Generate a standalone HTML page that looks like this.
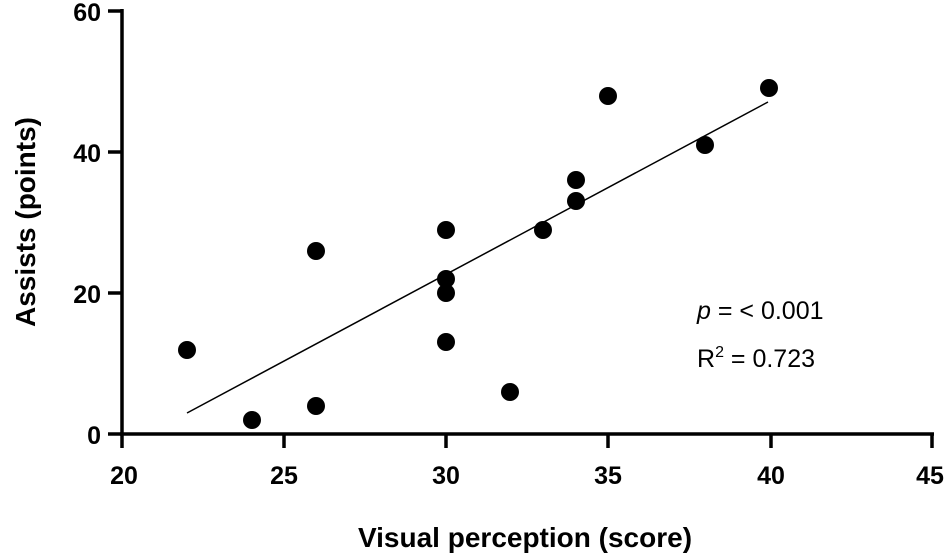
<!DOCTYPE html>
<html><head><style>body{margin:0;background:#fff}</style></head><body>
<svg width="945" height="554" xmlns="http://www.w3.org/2000/svg" font-family="Liberation Sans, Arial, sans-serif">
<g stroke="#000" stroke-width="3.5" fill="none">
<line x1="122" y1="9" x2="122" y2="434"/>
<line x1="120" y1="434" x2="934" y2="434"/>
<line x1="108" y1="11" x2="122" y2="11"/>
<line x1="108" y1="152" x2="122" y2="152"/>
<line x1="108" y1="293" x2="122" y2="293"/>
<line x1="108" y1="434" x2="122" y2="434"/>
<line x1="122" y1="434" x2="122" y2="448"/>
<line x1="284" y1="434" x2="284" y2="448"/>
<line x1="446" y1="434" x2="446" y2="448"/>
<line x1="608" y1="434" x2="608" y2="448"/>
<line x1="771" y1="434" x2="771" y2="448"/>
<line x1="932" y1="434" x2="932" y2="448"/>
</g>
<line x1="187" y1="413" x2="768" y2="102" stroke="#000" stroke-width="1.5"/>
<g font-weight="bold" font-size="25" text-anchor="end">
<text x="101" y="21">60</text><text x="101" y="162">40</text><text x="101" y="303">20</text><text x="101" y="444">0</text>
</g>
<g font-weight="bold" font-size="25" text-anchor="middle">
<text x="124" y="484">20</text><text x="284" y="484">25</text><text x="446" y="484">30</text><text x="608" y="484">35</text><text x="771" y="484">40</text><text x="930" y="484">45</text>
<text x="525" y="547" font-size="28">Visual perception (score)</text>
<text transform="translate(35,222) rotate(-90)" font-size="28">Assists (points)</text>
</g>
<g fill="#000">
<circle cx="187" cy="350" r="9"/>
<circle cx="252" cy="420" r="9"/>
<circle cx="316" cy="251" r="9"/>
<circle cx="316" cy="406" r="9"/>
<circle cx="446" cy="230" r="9"/>
<circle cx="446" cy="279" r="9"/>
<circle cx="446" cy="293" r="9"/>
<circle cx="446" cy="342" r="9"/>
<circle cx="510" cy="392" r="9"/>
<circle cx="543" cy="230" r="9"/>
<circle cx="576" cy="180" r="9"/>
<circle cx="576" cy="201" r="9"/>
<circle cx="608" cy="96" r="9"/>
<circle cx="705" cy="145" r="9"/>
<circle cx="769" cy="88" r="9"/>
</g>
<text x="697" y="319" font-size="25"><tspan font-style="italic">p</tspan> = &lt; 0.001</text>
<text x="697" y="367" font-size="25">R<tspan dy="-10" font-size="16">2</tspan><tspan dy="10"> = 0.723</tspan></text>
</svg>
</body></html>
